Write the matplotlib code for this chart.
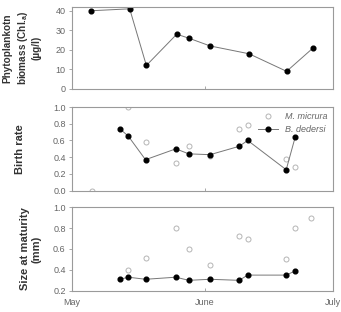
import matplotlib
matplotlib.use("Agg")
import matplotlib.pyplot as plt

plt.rcParams["font.family"] = ["Liberation Sans", "DejaVu Sans"]

# days since May 1
phyto_days = [4.4, 13.5, 17.4, 24.5, 27.3, 32.3, 41.4, 50.2, 56.4]
phyto_chl = [40, 41, 12, 28, 26, 22, 18, 9, 21]

birth_days = [11.2, 13.2, 17.2, 24.3, 27.3, 32.3, 39.1, 41.1, 50.1, 52.2]
birth_bd = [0.74, 0.65, 0.37, 0.50, 0.44, 0.43, 0.53, 0.60, 0.25, 0.64]
birth_mm_days = [4.6, 13.2, 17.2, 24.3, 27.3, 32.3, 39.1, 41.1, 50.1, 52.2]
birth_mm = [0.0, 1.0, 0.58, 0.33, 0.53, 0.41, 0.74, 0.78, 0.38, 0.28]

size_bd_days = [11.2, 13.2, 17.2, 24.3, 27.3, 32.3, 39.1, 41.1, 50.1, 52.2]
size_bd = [0.31, 0.33, 0.31, 0.33, 0.30, 0.31, 0.30, 0.35, 0.35, 0.39]
size_mm_days = [13.2, 17.2, 24.3, 27.3, 32.3, 39.1, 41.1, 50.1, 52.2, 55.9]
size_mm = [0.40, 0.51, 0.80, 0.60, 0.45, 0.72, 0.70, 0.50, 0.80, 0.90]

month_ticks = [0, 31, 61]
month_labels = ["May", "June", "July"]

frame = "#9a9a9a"
grey_mk = "#b5b5b5"
txt = "#666666"
lab = "#333333"

fig = plt.figure(figsize=(3.41, 3.12), dpi=100)
left, width = 0.211, 0.765
ax1 = fig.add_axes([left, 0.715, width, 0.263])
ax2 = fig.add_axes([left, 0.389, width, 0.268])
ax3 = fig.add_axes([left, 0.068, width, 0.268])

for ax in (ax1, ax2, ax3):
    ax.set_xlim(0, 61)
    ax.set_xticks(month_ticks)
    for s in ax.spines.values():
        s.set_color(frame)
        s.set_linewidth(0.8)
    ax.tick_params(axis="both", colors=frame, labelcolor=txt, labelsize=6.5,
                   length=2.5, width=0.6, pad=2)
    ax.tick_params(axis="x", direction="in")

ax1.set_xticklabels([])
ax2.set_xticklabels([])
ax3.set_xticklabels(month_labels)
ax3.tick_params(axis="x", pad=5)

# panel 1
ax1.plot(phyto_days, phyto_chl, color="#777777", lw=0.7,
         marker="o", ms=3.4, mfc="black", mec="black")
ax1.set_ylim(0, 42)
ax1.set_yticks([0, 10, 20, 30, 40])
ax1.set_ylabel("Phytoplankotn\nbiomass (Chl.$_\\mathregular{a}$)\n(\u00b5g/l)",
               fontsize=7.2, fontweight="bold", color=lab, linespacing=1.3)
ax1.yaxis.set_label_coords(-0.115, 0.5)

# panel 2
ax2.plot(birth_mm_days, birth_mm, ls="none", marker="o", ms=3.6, mfc="none",
         mec=grey_mk, mew=0.7, label="M. micrura")
ax2.plot(birth_days, birth_bd, color="#777777", lw=0.7, marker="o", ms=3.4,
         mfc="black", mec="black", label="B. dedersi")
ax2.set_ylim(0, 1.0)
ax2.set_yticks([0.0, 0.2, 0.4, 0.6, 0.8, 1.0])
ax2.set_yticklabels(["0.0", "0.2", "0.4", "0.6", "0.8", "1.0"])
ax2.set_ylabel("Birth rate", fontsize=8, fontweight="bold", color=lab)
ax2.yaxis.set_label_coords(-0.18, 0.5)
leg = ax2.legend(loc="upper right", frameon=False,
                 prop={"style": "italic", "size": 6.5}, handlelength=2.2,
                 borderaxespad=0.2, labelspacing=0.4)
for t in leg.get_texts():
    t.set_color(txt)

# panel 3
ax3.plot(size_mm_days, size_mm, ls="none", marker="o", ms=3.6, mfc="none",
         mec=grey_mk, mew=0.7)
ax3.plot(size_bd_days, size_bd, color="#777777", lw=0.7, marker="o", ms=3.4,
         mfc="black", mec="black")
ax3.set_ylim(0.2, 1.0)
ax3.set_yticks([0.2, 0.4, 0.6, 0.8, 1.0])
ax3.set_yticklabels(["0.2", "0.4", "0.6", "0.8", "1.0"])
ax3.set_ylabel("Size at maturity\n(mm)", fontsize=8, fontweight="bold",
               color=lab, linespacing=1.25)
ax3.yaxis.set_label_coords(-0.115, 0.5)

fig.savefig("out.png", dpi=100)
